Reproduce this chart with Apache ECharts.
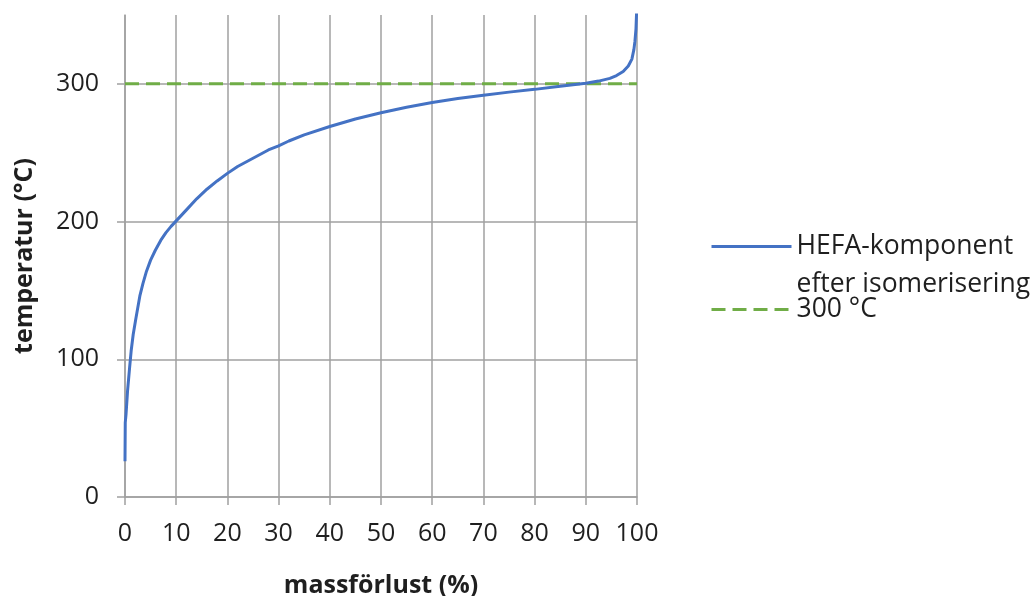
<!DOCTYPE html>
<html>
<head>
<meta charset="utf-8">
<script src="https://cdn.jsdelivr.net/npm/echarts@6/dist/echarts.min.js"></script>
<style>html,body{margin:0;padding:0;background:#fff}#c{width:1032px;height:596px}</style>
</head>
<body>
<div id="c"></div>
<script>
// massförlust (%) values
const massLoss = [0, 0.05, 0.2, 0.5, 0.9, 1.2, 1.6, 2.1, 2.9, 3.5, 4.2, 5, 5.9, 7, 8, 9, 10, 12, 14, 16, 18, 20, 22, 24, 26, 28, 30, 32, 35, 40, 45, 50, 55, 60, 65, 70, 75, 80, 85, 90, 92.5, 94.7, 96, 97.3, 98.3, 99, 99.4, 99.6, 99.8, 99.9, 100];
// temperatur (°C) values
const temperature = [26, 54, 60, 77, 94, 106, 118, 129, 146, 155, 164, 172, 179, 186.5, 192, 196.5, 200.5, 208.5, 216.5, 223.5, 229.5, 235, 240, 244, 248, 252, 255, 258.5, 263, 269, 274.5, 279, 283, 286.5, 289.3, 291.8, 294, 296, 298.2, 300.5, 302, 304, 306, 309, 313, 318, 325, 331, 340, 350, 365];
const refX = [0, 100];
const refY = [300, 300];
const xTicks = [0, 100, 10];
const yTicks = [0, 350, 100];
const seriesNames = ['HEFA-komponent efter isomerisering', '300 °C'];

const FONT = 'Open Sans';
const gray = '#a0a0a0';
const txt = '#1f1f1f';
const chart = echarts.init(document.getElementById('c'), null, {renderer: 'canvas'});
chart.setOption({
  animation: false,
  backgroundColor: '#ffffff',
  textStyle: {fontFamily: FONT},
  grid: {left: 125, right: 395, top: 15, bottom: 99, outerBoundsMode: 'none', containLabel: false},
  legend: {
    data: seriesNames, orient: 'vertical', left: 710, top: 195, padding: 0,
    itemWidth: 80, itemHeight: 14, itemGap: -2,
    itemStyle: {opacity: 0},
    lineStyle: {width: 3},
    formatter: name => name === seriesNames[0]
      ? '{s| }\n{a|HEFA-komponent}\n{a|efter isomerisering}'
      : '{a|' + name + '}',
    textStyle: {fontFamily: FONT, fontSize: 26.5, color: txt,
      rich: {s: {fontSize: 26.5, lineHeight: 38}, a: {fontFamily: FONT, fontSize: 26.5, color: txt, lineHeight: 38}}}
  },
  xAxis: {
    type: 'value', min: xTicks[0], max: xTicks[1], interval: xTicks[2],
    name: 'massförlust (%)', nameLocation: 'middle', nameGap: 76,
    nameTextStyle: {fontFamily: FONT, fontSize: 25, fontWeight: 'bold', color: txt},
    axisLine: {show: true, lineStyle: {color: gray, width: 1.5}},
    axisTick: {show: true, length: 8, inside: false, lineStyle: {color: gray, width: 1.5}},
    axisLabel: {fontFamily: FONT, fontSize: 25, color: txt, margin: 24},
    splitLine: {show: true, lineStyle: {color: gray, width: 1.5}}
  },
  yAxis: {
    type: 'value', min: yTicks[0], max: yTicks[1], interval: yTicks[2],
    name: 'temperatur (°C)', nameLocation: 'middle', nameGap: 88,
    nameTextStyle: {fontFamily: FONT, fontSize: 25, fontWeight: 'bold', color: txt},
    axisLine: {show: true, lineStyle: {color: gray, width: 1.5}},
    axisTick: {show: true, length: 8, inside: false, lineStyle: {color: gray, width: 1.5}},
    axisLabel: {fontFamily: FONT, fontSize: 25, color: txt, margin: 26, showMaxLabel: false,
      formatter: v => (v % 100 === 0 ? String(v) : '')},
    splitLine: {show: true, showMaxLine: false, lineStyle: {color: gray, width: 1.5}}
  },
  series: [
    {
      name: seriesNames[0], type: 'line', showSymbol: false, symbol: 'none',
      data: massLoss.map((x, i) => [x, temperature[i]]),
      lineStyle: {color: '#4472C4', width: 3}, itemStyle: {color: '#4472C4'},
      clip: true, z: 3
    },
    {
      name: seriesNames[1], type: 'line', showSymbol: false, symbol: 'none',
      data: refX.map((x, i) => [x, refY[i]]),
      lineStyle: {color: '#70AD47', width: 3, type: [14, 7]}, itemStyle: {color: '#70AD47'},
      z: 2
    }
  ]
});
</script>
</body>
</html>
